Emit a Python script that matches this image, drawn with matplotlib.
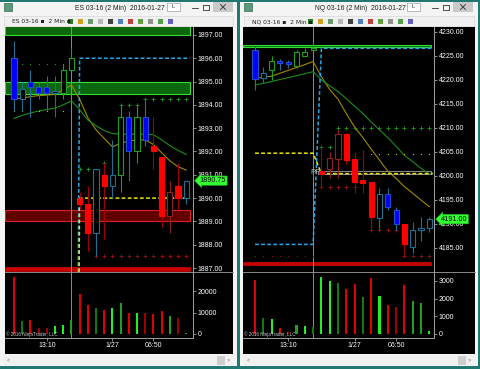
import numpy as np
import matplotlib.pyplot as plt
from matplotlib.patches import Rectangle

plt.rcParams['font.family'] = ['Liberation Sans', 'DejaVu Sans']

bars = np.arange(22)
time_ticks = [4, 12, 17]
time_labels = ["13:10", "1/27", "06:50"]
cross_bar = 7

# ES 03-16 (2 Min)
es_open  = [1896.0, 1894.25, 1895.0, 1894.75, 1894.75, 1894.5, 1894.5, 1895.5, 1890.0, 1889.75, 1888.5,
            1891.0, 1890.5, 1891.0, 1893.5, 1892.0, 1893.5, 1892.25, 1891.75, 1889.25, 1890.5, 1890.0]
es_high  = [1896.75, 1895.0, 1895.5, 1895.0, 1895.25, 1895.25, 1895.75, 1896.5, 1890.25, 1890.5, 1891.25,
            1891.5, 1892.5, 1894.0, 1893.75, 1894.0, 1894.25, 1893.5, 1891.75, 1890.75, 1891.5, 1890.75]
es_low   = [1893.75, 1893.75, 1893.5, 1894.25, 1893.8, 1893.5, 1894.25, 1895.5, 1889.5, 1887.75, 1887.5,
            1888.25, 1890.0, 1890.25, 1890.75, 1891.5, 1892.25, 1891.25, 1888.75, 1888.5, 1889.5, 1889.75]
es_close = [1894.25, 1894.7, 1894.75, 1894.5, 1894.5, 1894.55, 1895.5, 1896.0, 1889.75, 1888.5, 1891.25,
            1890.5, 1891.0, 1893.5, 1892.0, 1893.5, 1892.5, 1892.0, 1889.25, 1890.25, 1890.0, 1890.75]
es_paint = ['B', 'C', 'B', 'B', 'B', 'C', 'G', 'G', 'R', 'R', 'C',
            'R', 'C', 'G', 'B', 'G', 'B', 'R', 'R', 'D', 'R', 'C']
es_ma_fast = [1894.25, 1894.3, 1894.35, 1894.4, 1894.42, 1894.45, 1894.65, 1894.85, 1894.25, 1893.45, 1892.93,
              1892.56, 1892.2, 1892.35, 1892.45, 1892.5, 1892.5, 1892.3, 1891.95, 1891.6, 1891.35, 1891.2]
es_ma_slow = [1893.42, 1893.55, 1893.65, 1893.74, 1893.8, 1893.86, 1894.0, 1894.17, 1893.8, 1893.35, 1893.1,
              1892.9, 1892.77, 1892.74, 1892.74, 1892.74, 1892.74, 1892.72, 1892.5, 1892.25, 1892.05, 1891.87]
es_volume = [26500, 6100, 6500, 2700, 2700, 3700, 4200, 6500, 18700, 13600, 12000,
             11200, 12000, 14400, 10000, 9700, 10000, 9400, 10800, 8400, 7600, 600]
es_vol_tone = ['r', 'dg', 'r', 'dr', 'dr', 'lg', 'lg', 'g', 'r', 'r', 'dg',
               'r', 'lg', 'g', 'r', 'lg', 'dr', 'r', 'r', 'g', 'dr', 'g']
es_last = 1890.75
es_cyan = (1840.0, 1896.0)      # level before / after the switch bar
es_yellow = (1840.0, 1890.0)
es_switch = 8
es_green_zones = [(1897.0, 1897.4), (1894.47, 1895.0)]
es_red_zones = [(1889.0, 1889.5)]
es_red_bar = (1886.88, 1887.05)
# (level, first bar, last bar, kind)
es_marks = [(1894.0, 13, 15, 'g+'), (1894.25, 16, 21, 'g+'), (1895.75, 1, 6, 'g.'),
            (1893.75, 0, 6, 'y.'), (1891.25, 8, 9, 'g+'), (1891.5, 11, 11, 'g+'),
            (1887.5, 10, 21, 'r+')]

# NQ 03-16 (2 Min)
nq_open  = [4226.3, 4220.35, 4222.0, 4224.0, 4223.8, 4222.9, 4225.1, 4226.15, 4201.0, 4201.5, 4203.5,
            4208.75, 4203.5, 4199.0, 4198.75, 4191.25, 4196.25, 4193.0, 4190.0, 4185.25, 4188.75, 4189.25]
nq_high  = [4227.0, 4222.8, 4224.9, 4224.3, 4224.2, 4226.3, 4226.6, 4228.0, 4206.0, 4205.0, 4209.5,
            4209.0, 4205.0, 4205.5, 4198.75, 4197.5, 4197.5, 4193.5, 4190.0, 4190.5, 4191.5, 4191.5]
nq_low   = [4218.0, 4219.3, 4220.0, 4222.1, 4222.4, 4222.4, 4224.9, 4226.15, 4197.5, 4199.5, 4199.5,
            4202.5, 4196.5, 4196.5, 4188.75, 4188.75, 4193.0, 4188.75, 4183.75, 4184.0, 4186.5, 4188.25]
nq_close = [4220.2, 4221.5, 4224.0, 4223.5, 4223.3, 4225.9, 4225.8, 4226.6, 4200.5, 4203.75, 4208.75,
            4203.25, 4198.75, 4198.6, 4191.5, 4196.25, 4193.5, 4190.0, 4185.75, 4188.75, 4189.25, 4191.0]
nq_paint = ['B', 'C', 'G', 'B', 'B', 'G', 'G', 'G', 'R', 'D', 'D',
            'R', 'R', 'R', 'R', 'C', 'B', 'B', 'R', 'C', 'C', 'C']
nq_ma_fast = [4220.35, 4220.55, 4220.8, 4221.4, 4222.0, 4222.6, 4223.2, 4223.85, 4220.7, 4218.0, 4216.0,
              4213.0, 4210.2, 4208.0, 4205.6, 4203.3, 4201.0, 4199.5, 4197.8, 4196.4, 4195.0, 4193.6]
nq_ma_slow = [4218.95, 4219.3, 4219.7, 4220.1, 4220.5, 4220.9, 4221.3, 4221.75, 4220.0, 4218.8, 4217.6,
              4216.1, 4214.55, 4213.0, 4211.25, 4209.6, 4208.0, 4206.2, 4204.3, 4203.0, 4201.6, 4200.4]
nq_volume = [3060, 890, 830, 360, 130, 490, 450, 380, 3200, 3000, 2870,
             2550, 2830, 2110, 3170, 2170, 1660, 1530, 2770, 1850, 1750, 170]
nq_vol_tone = ['r', 'dg', 'lg', 'r', 'dr', 'g', 'lg', 'dg', 'lg', 'lg', 'dg',
               'r', 'r', 'dg', 'r', 'lg', 'r', 'dr', 'r', 'g', 'g', 'lg']
nq_last = 4191.0
nq_cyan = (4185.75, 4226.6)
nq_yellow = (4204.75, 4200.5)
nq_switch = 8
nq_green_zones = [(4226.9, 4227.3)]
nq_red_zones = []
nq_red_bar = (4181.5, 4182.1)
nq_pp = (4200.4, 4201.0)
nq_marks = [(4210.0, 10, 21, 'g+'), (4206.0, 8, 9, 'g+'), (4204.5, 9, 21, 'y.'),
            (4197.75, 8, 12, 'r+'), (4188.75, 14, 17, 'r+'), (4183.25, 18, 21, 'r+'),
            (4183.25, 0, 7, 'r.')]

candle_style = {
    'B': ('#0000ff', '#2050c8', '#2a6f9a'),
    'R': ('#ff0000', '#ff0000', '#a00000'),
    'G': ('#000000', '#1f9f1f', '#1f9f1f'),
    'C': ('#000000', '#1f6f90', '#1f6f90'),
    'D': ('#000000', '#8f2020', '#8f2020'),
}
vol_colors = {'r': '#e00000', 'dr': '#a00000', 'lg': '#22ee22', 'g': '#1fa01f', 'dg': '#137a13'}
mark_style = {'g+': ('#1f9f1f', '+', 9), 'r+': ('#a01010', '+', 9),
              'g.': ('#1fa01f', 'o', 0.8), 'y.': ('#c8c800', 'o', 0.8), 'r.': ('#a01010', 'o', 0.8)}

fig = plt.figure(figsize=(4.8, 3.69), dpi=100, facecolor='#1f7872')

# window chrome, pixel coordinates
bg = fig.add_axes([0, 0, 1, 1])
bg.set_xlim(0, 480)
bg.set_ylim(369, 0)
bg.axis('off')


def window(x0, x1, bx0, bx1, title, sym):
    bg.add_patch(Rectangle((x0, 1.5), x1 - x0, 364.5, fc='#f4f4f4', ec='none'))
    bg.add_patch(Rectangle((x0 + 4, 3), 8, 8, fc='#5a9a7a', ec='#3a6a5a', lw=0.5))
    bg.text(x0 + 120, 8.5, title, fontsize=4.9, ha='center', va='center', color='#202020')
    bg.add_patch(Rectangle((x0 + 167, 2.5), 13, 8, fc='white', ec='#a0a0a0', lw=0.5))
    bg.text(x0 + 173.5, 6.5, 'L', fontsize=4, ha='center', va='center', color='#303030')
    bg.plot([x0 + 192, x0 + 198], [7.5, 7.5], color='#303030', lw=0.6)
    bg.add_patch(Rectangle((x0 + 203, 4.5), 6, 5.5, fc='none', ec='#303030', lw=0.6))
    bg.add_patch(Rectangle((x0 + 213, 2), 20, 10, fc='#c9c9c9', ec='none'))
    bg.plot([x0 + 220.5, x0 + 225.5], [4.5, 9.5], color='#303030', lw=0.6)
    bg.plot([x0 + 220.5, x0 + 225.5], [9.5, 4.5], color='#303030', lw=0.6)
    bg.add_patch(Rectangle((x0 + 4, 16), x1 - x0 - 8, 10, fc='#f0f0f0', ec='#d8d8d8', lw=0.5))
    bg.text(x0 + 12, 21.5, sym + ' \u25aa  2 Min \u25aa', fontsize=4.3, ha='left', va='center',
            color='#202020', family=['DejaVu Sans'])
    icons = ['#2a7a2a', '#d0a020', '#6a9a6a', '#b8b8b8', '#404040', '#5080c0',
             '#c04040', '#60a040', '#909090', '#50a050', '#6060c0']
    for k, col in enumerate(icons):
        bg.add_patch(Rectangle((x0 + 68 + k * 10, 18.5), 5, 5, fc=col, ec='none'))
    bg.add_patch(Rectangle((bx0, 27), bx1 - bx0, 327, fc='black', ec='none'))
    bg.plot([bx0, bx1], [272, 272], color='#8a8a8a', lw=0.7)
    bg.add_patch(Rectangle((x0 + 4, 355), x1 - x0 - 8, 10, fc='#f0f0f0', ec='none'))
    bg.text(x0 + 8, 360, '<', fontsize=4, ha='center', va='center', color='#707070')
    bg.text(x1 - 9, 360, '>', fontsize=4, ha='center', va='center', color='#707070')
    bg.add_patch(Rectangle((x1 - 20, 356), 8, 8.5, fc='#cdcdcd', ec='none'))


window(0, 237, 5, 233, 'ES 03-16 (2 Min)  2016-01-27', 'ES 03-16')
window(240, 478, 243, 475, 'NQ 03-16 (2 Min)  2016-01-27', 'NQ 03-16')


def px_axes(x0, y0, x1, y1):
    ax = fig.add_axes([x0 / 480, 1 - y1 / 369, (x1 - x0) / 480, (y1 - y0) / 369])
    ax.set_facecolor('none')
    for s in ['top', 'left']:
        ax.spines[s].set_visible(False)
    for s in ['right', 'bottom']:
        ax.spines[s].set_color('#a0a0a0')
        ax.spines[s].set_linewidth(0.7)
    ax.yaxis.tick_right()
    ax.tick_params(colors='#a0a0a0', labelcolor='white', labelsize=5, length=2, width=0.6, pad=1.2)
    return ax


def draw_chart(x0, x1, xlim, ylim, vlim, yticks, vticks, o, h, l, c, paint, ma_fast, ma_slow,
               vol, tone, last, cyan, yellow, switch, gzones, rzones, rbar, marks, pp=None):
    ax = px_axes(x0, 27, x1, 272)
    ax.set_xlim(*xlim)
    ax.set_ylim(*ylim)
    ax.spines['bottom'].set_visible(False)
    ax.set_xticks([])
    ax.set_yticks(yticks)
    ax.set_yticklabels(['%.2f' % t for t in yticks])

    for lo, hi in gzones:
        ax.axhspan(lo, hi, xmin=0, xmax=0.985, fc='#0c660c', ec='#33dd33', lw=0.8, zorder=1)
    for lo, hi in rzones:
        ax.axhspan(lo, hi, xmin=0, xmax=0.985, fc='#620000', ec='#dd2020', lw=0.8, zorder=1)
    ax.axhspan(rbar[0], rbar[1], xmin=0, xmax=0.985, fc='#c80000', ec='#c80000', lw=0.5, zorder=1)
    if pp is not None:
        ax.add_patch(Rectangle((switch - 0.45, pp[0]), xlim[1] - switch + 0.1, pp[1] - pp[0],
                               fc='none', ec='#8a8a8a', lw=0.7, zorder=2))
        ax.text(switch - 0.7, (pp[0] + pp[1]) / 2, 'PP', fontsize=5.5, color='#b8b8b8',
                ha='center', va='center', zorder=6)

    ax.axvline(cross_bar, color='#8c8c8c', lw=0.7, zorder=2)

    ax.plot(bars, ma_fast, color='#a08800', lw=0.8, zorder=2)
    ax.plot(bars, ma_slow, color='#1c8c1c', lw=0.8, zorder=2)

    for lev, col in ((cyan, '#2aa6e6'), (yellow, '#e6e600')):
        first = 0 if lev[0] > ylim[0] else switch - 1
        xs = bars[first:]
        ext = np.r_[xs, xs[-1] + 0.45]
        ax.plot(ext, np.where(ext >= switch, lev[1], lev[0]), color=col, lw=1.1,
                ls=(0, (2.5, 1.5)), zorder=3)

    for lev, a, b, kind in marks:
        col, m, size = mark_style[kind]
        xs = bars[a:b + 1]
        if m == '+':
            ax.scatter(xs, [lev] * len(xs), marker='+', s=size, color=col, lw=0.6, zorder=3)
        else:
            ax.scatter(xs, [lev] * len(xs), marker='o', s=size, color=col, lw=0, zorder=3)

    for i in bars:
        fc, ec, wc = candle_style[paint[i]]
        ax.vlines(i, l[i], h[i], color=wc, lw=0.8, zorder=4)
        lo, hi = min(o[i], c[i]), max(o[i], c[i])
        ax.bar(i, max(hi - lo, 0.01 * (ylim[1] - ylim[0])), bottom=lo, width=0.62,
               color=fc, edgecolor=ec, lw=0.8, zorder=5)

    ax.text(1.035, last, '%.2f' % last, transform=ax.get_yaxis_transform(), fontsize=5.2,
            color='black', ha='left', va='center', zorder=10, clip_on=False,
            bbox=dict(boxstyle='larrow,pad=0.15', fc='#33ff33', ec='#22cc22', lw=0.5))

    av = px_axes(x0, 272, x1, 338)
    av.set_xlim(*xlim)
    av.set_ylim(*vlim)
    av.bar(bars, vol, width=0.25, color=[vol_colors[t] for t in tone], zorder=3)
    av.axvline(cross_bar, color='#8c8c8c', lw=0.7, zorder=2)
    av.set_yticks(vticks)
    av.set_yticklabels([str(v) for v in vticks])
    av.set_xticks(time_ticks)
    av.set_xticklabels(time_labels)
    av.text(0.005, 0.01, '\u00a9 2016 NinjaTrader, LLC', transform=av.transAxes, fontsize=3.3,
            color='#c8c8c8', ha='left', va='bottom', zorder=6)


draw_chart(5, 193, (-1.1, 21.83), (1886.83, 1897.34), (-1875, 29060),
           np.arange(1887, 1898), [0, 10000, 20000],
           es_open, es_high, es_low, es_close, es_paint, es_ma_fast, es_ma_slow,
           es_volume, es_vol_tone, es_last, es_cyan, es_yellow, es_switch,
           es_green_zones, es_red_zones, es_red_bar, es_marks)

draw_chart(243, 434, (-1.45, 21.57), (4180.0, 4231.04), (-226, 3503),
           np.arange(4185, 4231, 5), [0, 1000, 2000, 3000],
           nq_open, nq_high, nq_low, nq_close, nq_paint, nq_ma_fast, nq_ma_slow,
           nq_volume, nq_vol_tone, nq_last, nq_cyan, nq_yellow, nq_switch,
           nq_green_zones, nq_red_zones, nq_red_bar, nq_marks, pp=nq_pp)

fig.savefig('out.png', dpi=100, facecolor=fig.get_facecolor())
